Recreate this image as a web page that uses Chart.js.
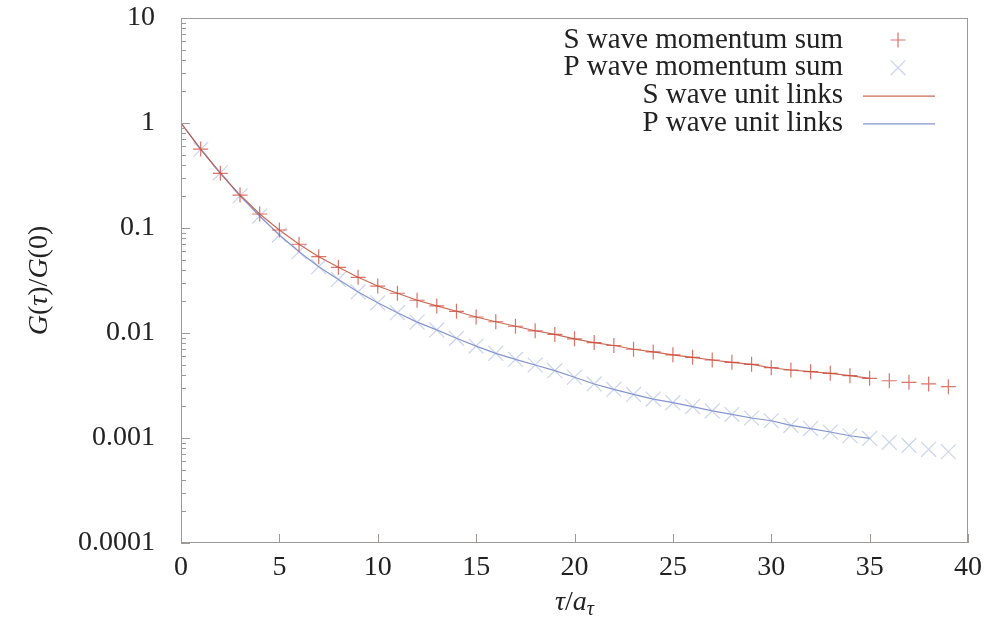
<!DOCTYPE html>
<html>
<head>
<meta charset="utf-8">
<script src="https://cdn.jsdelivr.net/npm/chart.js@4"></script>
<style>
  html, body { margin: 0; padding: 0; background: #fff; }
  #wrap { width: 988px; height: 629px; }
</style>
</head>
<body>
<div id="wrap"><canvas id="myChart" width="988" height="629"></canvas></div>
<script>
// correlator ratio G(tau)/G(0), momentum-sum points and unit-link curves
var tau = [1, 2, 3, 4, 5, 6, 7, 8, 9, 10, 11, 12, 13, 14, 15, 16, 17, 18, 19, 20,
           21, 22, 23, 24, 25, 26, 27, 28, 29, 30, 31, 32, 33, 34, 35, 36, 37, 38, 39];
var sMomentum = [0.565, 0.332, 0.206, 0.136, 0.0957, 0.070, 0.0533, 0.0422, 0.0339, 0.0280,
                 0.0239, 0.0205, 0.0181, 0.0161, 0.0142, 0.0128, 0.0116, 0.0105, 0.0097, 0.0088,
                 0.0081, 0.0076, 0.0070, 0.0066, 0.0062, 0.00586, 0.00553, 0.00526, 0.00503, 0.00467,
                 0.00444, 0.00428, 0.00413, 0.00392, 0.0037, 0.00351, 0.00339, 0.00327, 0.00308];
var pMomentum = [0.56, 0.335, 0.202, 0.130, 0.0857, 0.0595, 0.0428, 0.0324, 0.0246, 0.0194,
                 0.0156, 0.0127, 0.0107, 0.0089, 0.0075, 0.0064, 0.0056, 0.00496, 0.00438, 0.00379,
                 0.00327, 0.0029, 0.0026, 0.00235, 0.00217, 0.00199, 0.00181, 0.00168, 0.00155, 0.00146,
                 0.00132, 0.00123, 0.00114, 0.00105, 0.00099, 0.00091, 0.00085, 0.00078, 0.00074];

var linkTau = [0, 1, 2, 3, 4, 5, 6, 7, 8, 9, 10, 11, 12, 13, 14, 15, 16, 17,
               18, 19, 20, 21, 22, 23, 24, 25, 26, 27, 28, 29, 30, 31, 32, 33, 34, 35];
var sLinks = [1, 0.565, 0.332, 0.206, 0.136, 0.0957, 0.070, 0.0533, 0.0422, 0.0339, 0.0280,
              0.0239, 0.0205, 0.0181, 0.0161, 0.0142, 0.0128, 0.0116, 0.0105, 0.0097, 0.0088,
              0.0081, 0.0076, 0.0070, 0.0066, 0.0062, 0.00586, 0.00553, 0.00526, 0.00503, 0.00467,
              0.00444, 0.00428, 0.00413, 0.00392, 0.0037];
var pLinks = [1, 0.56, 0.335, 0.202, 0.130, 0.0857, 0.0595, 0.0428, 0.0324, 0.0246, 0.0194,
              0.0156, 0.0127, 0.0107, 0.0089, 0.0075, 0.0064, 0.0056, 0.00496, 0.00438, 0.00379,
              0.00327, 0.0029, 0.0026, 0.00235, 0.00217, 0.00199, 0.00181, 0.00168, 0.00155, 0.00146,
              0.00132, 0.00123, 0.00114, 0.00105, 0.00099];

var xTicks = [0, 5, 10, 15, 20, 25, 30, 35, 40];
var yTicks = [0.0001, 0.001, 0.01, 0.1, 1, 10];

var FONT = "'Liberation Serif', 'DejaVu Serif', serif";
var TEXT = '#222';
var FRAME = '#9e9a98';

function pairs(xs, ys) {
    return xs.map(function (x, i) { return { x: x, y: ys[i] }; });
}

// gnuplot-style frame with inward ticks
var framePlugin = {
    id: 'frame',
    afterDraw: function (chart) {
        var ctx = chart.ctx, a = chart.chartArea;
        var xs = chart.scales.x, ys = chart.scales.y;
        ctx.save();
        ctx.strokeStyle = FRAME;
        ctx.lineWidth = 1;
        ctx.strokeRect(a.left + 0.5, a.top + 0.5, a.right - a.left - 1, a.bottom - a.top - 1);
        ctx.beginPath();
        xTicks.forEach(function (v) {
            var px = Math.round(xs.getPixelForValue(v)) + 0.5;
            ctx.moveTo(px, a.bottom);
            ctx.lineTo(px, a.bottom - 9);
        });
        yTicks.forEach(function (v, i) {
            var py = Math.round(ys.getPixelForValue(v)) + 0.5;
            ctx.moveTo(a.left, py);
            ctx.lineTo(a.left + 9, py);
            if (i < yTicks.length - 1) {
                for (var m = 2; m <= 9; m++) {
                    var pm = Math.round(ys.getPixelForValue(v * m)) + 0.5;
                    ctx.moveTo(a.left, pm);
                    ctx.lineTo(a.left + 5, pm);
                }
            }
        });
        ctx.stroke();
        ctx.restore();
    }
};

// draw a run of text pieces, some italic, some shifted down as subscripts
function drawPieces(ctx, pieces, cx, cy) {
    var total = 0;
    pieces.forEach(function (p) {
        ctx.font = (p.italic ? 'italic ' : '') + p.size + 'px ' + FONT;
        p.w = ctx.measureText(p.t).width;
        total += p.w;
    });
    var x = cx - total / 2;
    pieces.forEach(function (p) {
        ctx.font = (p.italic ? 'italic ' : '') + p.size + 'px ' + FONT;
        ctx.fillText(p.t, x, cy + (p.dy || 0));
        x += p.w;
    });
}

var titlesPlugin = {
    id: 'axisTitles',
    afterDraw: function (chart) {
        var ctx = chart.ctx, a = chart.chartArea;
        ctx.save();
        ctx.fillStyle = TEXT;
        ctx.textBaseline = 'middle';
        ctx.textAlign = 'left';
        drawPieces(ctx, [
            { t: 'τ', italic: true, size: 28 },
            { t: '/', size: 28 },
            { t: 'a', italic: true, size: 28 },
            { t: 'τ', italic: true, size: 20, dy: 7 }
        ], (a.left + a.right) / 2, 603);
        ctx.translate(40, (a.top + a.bottom) / 2);
        ctx.rotate(-Math.PI / 2);
        drawPieces(ctx, [
            { t: 'G', italic: true, size: 28 },
            { t: '(', size: 28 },
            { t: 'τ', italic: true, size: 28 },
            { t: ')/', size: 28 },
            { t: 'G', italic: true, size: 28 },
            { t: '(0)', size: 28 }
        ], 0, 0);
        ctx.restore();
    }
};

// key in the top right corner: text right-aligned, sample to its right
var keyPlugin = {
    id: 'key',
    afterDraw: function (chart) {
        var ctx = chart.ctx;
        ctx.save();
        ctx.font = '29px ' + FONT;
        ctx.textAlign = 'right';
        ctx.textBaseline = 'middle';
        chart.data.datasets.forEach(function (ds, i) {
            var y = 40 + i * 27.8;
            ctx.fillStyle = TEXT;
            ctx.fillText(ds.label, 843, y);
            if (ds.showLine) {
                ctx.strokeStyle = ds.borderColor;
                ctx.lineWidth = ds.borderWidth;
                ctx.beginPath();
                ctx.moveTo(863, y + 0.5);
                ctx.lineTo(935, y + 0.5);
                ctx.stroke();
            } else {
                ctx.strokeStyle = ds.pointBorderColor;
                ctx.lineWidth = ds.pointBorderWidth;
                Chart.helpers.drawPoint(ctx, {
                    pointStyle: ds.pointStyle,
                    radius: ds.pointRadius,
                    borderWidth: ds.pointBorderWidth,
                    rotation: 0
                }, 898, y);
            }
        });
        ctx.restore();
    }
};

var ctx = document.getElementById('myChart').getContext('2d');
var myChart = new Chart(ctx, {
    type: 'scatter',
    data: {
        datasets: [{
            label: 'S wave momentum sum',
            data: pairs(tau, sMomentum),
            showLine: false,
            pointStyle: 'cross',
            pointRadius: 7.5,
            pointBorderWidth: 1.2,
            pointBorderColor: 'rgba(205, 70, 55, 0.75)',
            pointBackgroundColor: 'transparent'
        }, {
            label: 'P wave momentum sum',
            data: pairs(tau, pMomentum),
            showLine: false,
            pointStyle: 'crossRot',
            pointRadius: 10.5,
            pointBorderWidth: 1.2,
            pointBorderColor: 'rgba(140, 160, 215, 0.45)',
            pointBackgroundColor: 'transparent'
        }, {
            label: 'S wave unit links',
            data: pairs(linkTau, sLinks),
            showLine: true,
            borderColor: 'rgba(195, 80, 55, 0.85)',
            borderWidth: 1.2,
            pointRadius: 0,
            tension: 0
        }, {
            label: 'P wave unit links',
            data: pairs(linkTau, pLinks),
            showLine: true,
            borderColor: 'rgba(110, 130, 195, 0.85)',
            borderWidth: 1.2,
            pointRadius: 0,
            tension: 0
        }]
    },
    options: {
        responsive: false,
        animation: false,
        events: [],
        layout: { padding: { top: 18, right: 20, left: 0, bottom: 0 } },
        plugins: {
            legend: { display: false },
            tooltip: { enabled: false },
            title: { display: false }
        },
        scales: {
            x: {
                type: 'linear',
                min: 0,
                max: 40,
                afterBuildTicks: function (scale) {
                    scale.ticks = xTicks.map(function (v) { return { value: v }; });
                },
                afterFit: function (scale) {
                    scale.height = 86;
                    scale.paddingLeft = 0;
                    scale.paddingRight = 0;
                },
                grid: { display: false },
                border: { display: false },
                ticks: {
                    font: { family: FONT, size: 28 },
                    color: TEXT,
                    padding: 0,
                    maxRotation: 0
                }
            },
            y: {
                type: 'logarithmic',
                min: 0.0001,
                max: 10,
                afterBuildTicks: function (scale) {
                    scale.ticks = yTicks.map(function (v) { return { value: v }; });
                },
                afterFit: function (scale) {
                    scale.width = 181;
                    scale.paddingTop = 0;
                    scale.paddingBottom = 0;
                },
                grid: { display: false },
                border: { display: false },
                ticks: {
                    font: { family: FONT, size: 28 },
                    color: TEXT,
                    padding: 18,
                    autoSkip: false,
                    callback: function (v) { return String(v); }
                }
            }
        }
    },
    plugins: [framePlugin, titlesPlugin, keyPlugin]
});
</script>
</body>
</html>
